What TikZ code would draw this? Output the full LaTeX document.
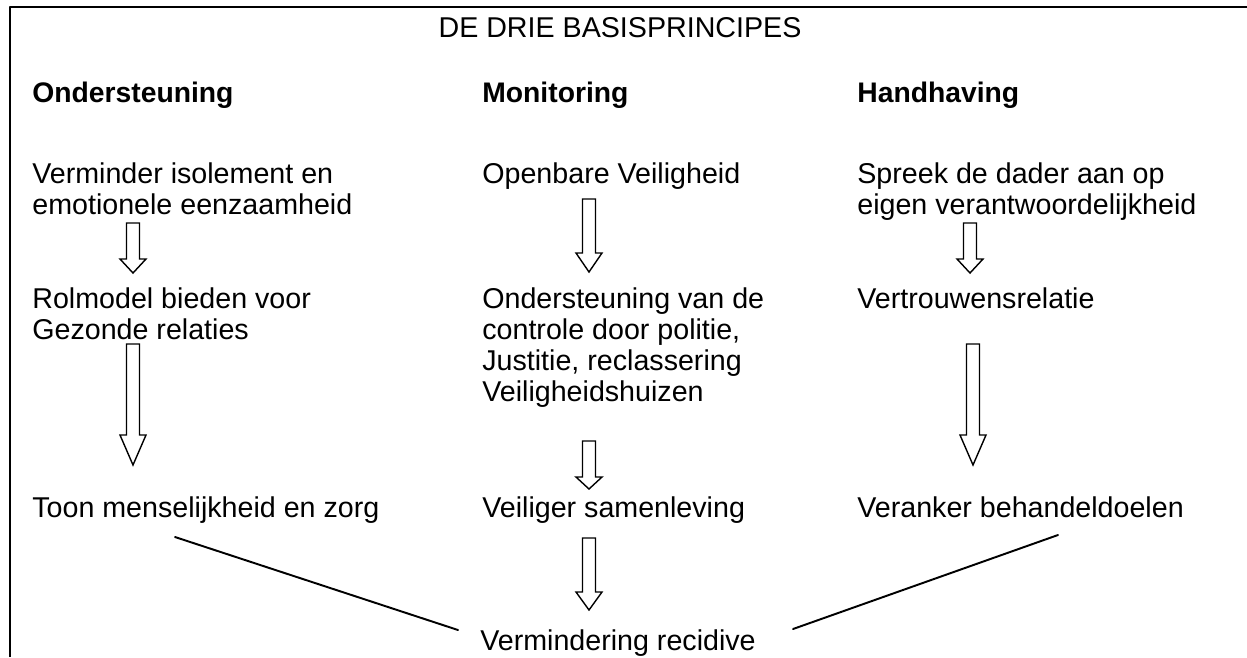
\documentclass[tikz,border=0pt]{standalone}
\usepackage{fontspec}
\setmainfont{Liberation Sans}
\usetikzlibrary{arrows}

% hollow block arrow: x, top of shaft, start of head, tip
\newcommand{\blockarrow}[4]{%
  \draw [line width=0.8pt,line join=miter] (#1-6.5,#2) -- (#1+6.5,#2) -- (#1+6.5,#3) -- (#1+13,#3) -- (#1,#4) -- (#1-13,#3) -- (#1-6.5,#3) -- cycle;}

\tikzset{
  txt/.style={anchor=base west,inner sep=0pt,align=left,font=\fontsize{16.3}{17.6}\selectfont},
  head/.style={txt,font=\fontsize{16.1}{17.6}\selectfont\bfseries}
}

\begin{document}
\begin{tikzpicture}[line cap=round,line join=round,x=0.02cm,y=-0.02cm]
  \useasboundingbox (0,0) rectangle (1247,657);
  % frame
  \draw [line width=1.1pt,line cap=butt] (10,657) -- (10,7) -- (1247,7);
  \node[txt,anchor=base] (title) at (620,37) {DE DRIE BASISPRINCIPES};
  % column heads
  \node[head] (ond) at (32,102) {Ondersteuning};
  \node[head] (mon) at (482,102) {Monitoring};
  \node[head] (hand) at (857,102) {Handhaving};
  % first row (base = last line)
  \node[txt] (isol) at (32,214) {Verminder isolement en\\emotionele eenzaamheid};
  \node[txt] (veil) at (482,183) {Openbare Veiligheid};
  \node[txt] (dader) at (857,214) {Spreek de dader aan op\\eigen verantwoordelijkheid};
  % second row
  \node[txt] (rol) at (32,339) {Rolmodel bieden voor\\Gezonde relaties};
  \node[txt] (contr) at (482,401) {Ondersteuning van de\\controle door politie,\\Justitie, reclassering\\Veiligheidshuizen};
  \node[txt] (vertr) at (857,308) {Vertrouwensrelatie};
  % third row
  \node[txt] (toon) at (32,517) {Toon menselijkheid en zorg};
  \node[txt] (samen) at (482,517) {Veiliger samenleving};
  \node[txt] (veran) at (857,517) {Veranker behandeldoelen};
  \node[txt] (recid) at (480,650) {Vermindering recidive};
  % arrows
  \blockarrow{133}{223}{259}{273}
  \blockarrow{133}{344}{435}{465}
  \blockarrow{589}{199}{253}{272}
  \blockarrow{589}{441}{477}{489}
  \blockarrow{589}{538}{592}{610}
  \blockarrow{970}{223}{259}{273}
  \blockarrow{973}{344}{435}{465}
  % lines to the result
  \coordinate (l1) at (175,537);
  \coordinate (l2) at (458,630);
  \coordinate (r1) at (1058,535);
  \coordinate (r2) at (793,629);
  \draw [line width=1.1pt] (l1) -- (l2);
  \draw [line width=1.1pt] (r1) -- (r2);
\end{tikzpicture}
\end{document}
